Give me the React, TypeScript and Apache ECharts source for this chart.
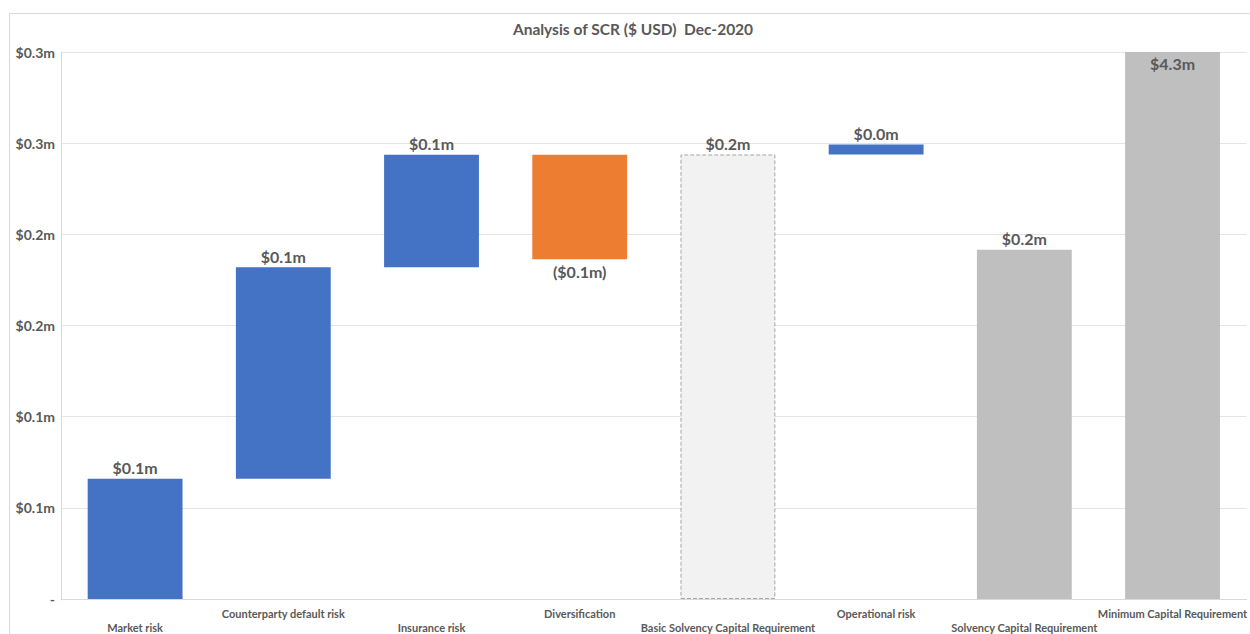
import React, { useEffect, useRef } from "react";
import * as echarts from "echarts";

const categories = [
  "Market risk",
  "Counterparty default risk",
  "Insurance risk",
  "Diversification",
  "Basic Solvency Capital Requirement",
  "Operational risk",
  "Solvency Capital Requirement",
  "Minimum Capital Requirement",
];
// $m
const stepValues = [0.066, 0.116, 0.0616, -0.0573, 0.2438, 0.0055, 0.1915, 4.3];
const isTotal = [false, false, false, false, true, false, true, true];
const yTicks = { min: 0, max: 0.3, interval: 0.05 };

const TEXT = "#595959";
const FONT = "Lato, 'Open Sans', sans-serif";

function buildWaterfall() {
  const bases: number[] = [];
  const heights: number[] = [];
  let running = 0;
  stepValues.forEach((v, i) => {
    if (isTotal[i]) {
      bases.push(0);
      heights.push(v);
      running = v;
    } else if (v >= 0) {
      bases.push(running);
      heights.push(v);
      running += v;
    } else {
      bases.push(running + v);
      heights.push(-v);
      running += v;
    }
  });
  return { bases, heights };
}

function fmtMoney(v: number) {
  const s = "$" + Math.abs(v).toFixed(1) + "m";
  return v < 0 ? "(" + s + ")" : s;
}

export default function App() {
  const ref = useRef<HTMLDivElement>(null);
  useEffect(() => {
    if (!ref.current) return;
    const chart = echarts.init(ref.current, null, { renderer: "svg" });
    const { bases, heights } = buildWaterfall();
    const valueData = heights.map((h, i) => {
      const v = stepValues[i];
      let itemStyle: any = { color: v < 0 ? "#ED7D31" : "#4472C4" };
      if (i === 4) {
        itemStyle = {
          color: "#F2F2F2",
          borderColor: "#A6A6A6",
          borderType: "dashed",
          borderWidth: 1,
        };
      } else if (isTotal[i]) {
        itemStyle = { color: "#BFBFBF" };
      }
      const position = v < 0 ? "bottom" : i === 7 ? "insideTop" : "top";
      return {
        value: h,
        itemStyle,
        label: { position, distance: v < 0 ? 4 : 3 },
      };
    });
    chart.setOption({
      animation: false,
      graphic: [
        {
          type: "rect",
          shape: { x: 9.5, y: 13.5, width: 1400, height: 800 },
          style: { fill: "none", stroke: "#D9D9D9", lineWidth: 1 },
          silent: true,
          z: -10,
        },
        {
          type: "text",
          x: 633,
          y: 29,
          style: {
            text: "Analysis of SCR ($ USD)  Dec-2020",
            fill: TEXT,
            font: `bold 15.5px ${FONT}`,
            textAlign: "center",
            textVerticalAlign: "middle",
          },
        },
      ],
      grid: { left: 61, right: 0, top: 52, bottom: 32, containLabel: false },
      xAxis: {
        type: "category",
        data: categories,
        axisLine: { lineStyle: { color: "#D9D9D9" } },
        axisTick: { show: false },
        axisLabel: {
          interval: 0,
          color: TEXT,
          fontFamily: FONT,
          fontWeight: "bold",
          fontSize: 11,
          lineHeight: 14,
          margin: 7,
          formatter: (val: string, idx: number) => (idx % 2 === 0 ? "\n" + val : val),
        },
      },
      yAxis: {
        type: "value",
        min: yTicks.min,
        max: yTicks.max,
        interval: yTicks.interval,
        axisLine: { show: true, lineStyle: { color: "#D9D9D9" } },
        axisTick: { show: false },
        splitLine: { lineStyle: { color: "#E4E4E4" } },
        axisLabel: {
          color: TEXT,
          fontFamily: FONT,
          fontWeight: "bold",
          fontSize: 14,
          margin: 6,
          formatter: (v: number) =>
            Math.abs(v) < 1e-9 ? "-" : "$" + (Math.round(v * 10 + 1e-9) / 10).toFixed(1) + "m",
        },
      },
      series: [
        {
          type: "bar",
          stack: "w",
          data: bases,
          itemStyle: { color: "transparent" },
          barWidth: "64%",
          silent: true,
        },
        {
          type: "bar",
          stack: "w",
          data: valueData,
          barWidth: "64%",
          clip: true,
          label: {
            show: true,
            color: TEXT,
            fontFamily: FONT,
            fontWeight: "bold",
            fontSize: 16,
            formatter: (p: any) => fmtMoney(stepValues[p.dataIndex]),
          },
        },
      ],
    });
    return () => chart.dispose();
  }, []);
  return (
    <div
      ref={ref}
      style={{ position: "absolute", left: 0, top: 0, width: 1250, height: 634 }}
    />
  );
}
